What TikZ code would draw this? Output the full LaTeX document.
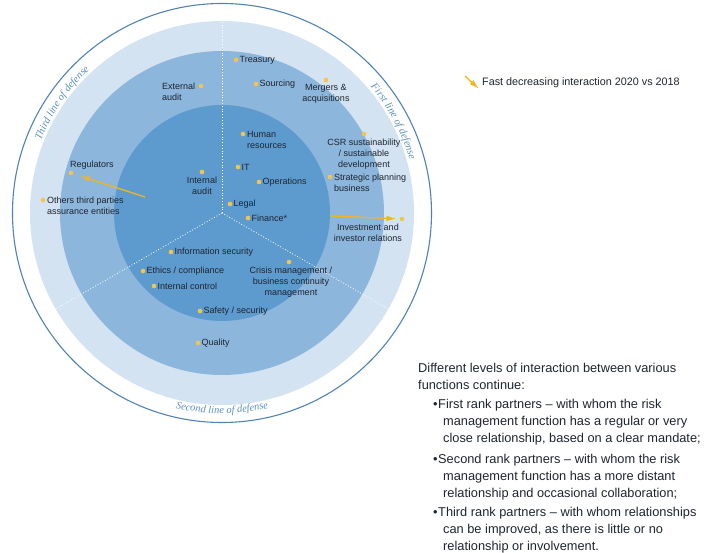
\documentclass[tikz,border=0pt]{standalone}
\usepackage{fontspec}
\setmainfont{Liberation Sans}
\newfontfamily\arcfont{Liberation Serif}
\definecolor{ringlight}{HTML}{D3E3F2}
\definecolor{ringmid}{HTML}{8CB6DC}
\definecolor{ringinner}{HTML}{5D9BCF}
\definecolor{rimblue}{HTML}{4F83B8}
\definecolor{rimtext}{HTML}{5A8FC6}
\definecolor{dotyellow}{HTML}{F2C54B}
\definecolor{arrowyellow}{HTML}{F2B520}
\definecolor{labelink}{HTML}{1E2430}
\usepackage{tikz}
\usetikzlibrary{arrows.meta,decorations.text,positioning}

\begin{document}
\begin{tikzpicture}[x=1pt,y=1pt,
    lbl/.style={font=\fontsize{9}{11}\selectfont,text=labelink,inner sep=0pt},
    fn/.style={circle,fill=dotyellow,inner sep=0pt,minimum size=4.6pt},
    trend/.style={arrowyellow,line width=1.3pt,-{Latex[length=10pt,width=5.5pt]}},
    divider/.style={white,dotted,line width=0.8pt},
    para/.style={font=\fontsize{12.8}{17}\selectfont,text=labelink,inner sep=0pt,align=left}]
    \useasboundingbox (-222,-340) rectangle (485,213);
    % Rings
    \coordinate (hub) at (0,0);
    \draw[rimblue,line width=1.1pt] (hub) circle (209.5pt);
    \fill[ringlight] (hub) circle (192pt);
    \fill[ringmid] (hub) circle (162pt);
    \fill[ringinner] (hub) circle (108pt);
    \foreach \a in {90,210,330}
      \draw[divider] (hub) -- (\a:192pt);
    % Lines of defense
    \path[decorate,decoration={text along path,text align=center,
      text={|\arcfont\itshape\fontsize{10.5}{12}\selectfont\color{rimtext}|Third line of defense}}]
      (165:195pt) arc[start angle=165,end angle=126,radius=195pt];
    \path[decorate,decoration={text along path,text align=center,
      text={|\arcfont\itshape\fontsize{10.5}{12}\selectfont\color{rimtext}|First line of defense}}]
      (48:195pt) arc[start angle=48,end angle=8,radius=195pt];
    \path[decorate,decoration={text along path,text align=center,
      text={|\arcfont\itshape\fontsize{10.5}{12}\selectfont\color{rimtext}|Second line of defense}}]
      (250:200.5pt) arc[start angle=250,end angle=290,radius=200.5pt];
    % Third line
    \node[fn] (extaudit) at (-21,127) {};
    \node[lbl,align=left,anchor=west] (extaudittxt) at (-60,121.5) {External\\audit};
    \node[fn] (intaudit) at (-20,41) {};
    \node[lbl,align=center,below=2pt of intaudit] (intaudittxt) {Internal\\audit};
    \node[fn] (regulators) at (-151,40) {};
    \node[lbl,anchor=west] (regulatorstxt) at (-152,47.5) {Regulators};
    \node[fn] (others) at (-179,13) {};
    \node[lbl,align=left,anchor=west] (otherstxt) at (-175,7.5) {Others third parties\\assurance entities};
    % First line
    \node[fn] (treasury) at (14,153) {};
    \node[lbl,right=1pt of treasury] (treasurytxt) {Treasury};
    \node[fn] (sourcing) at (34,129) {};
    \node[lbl,right=1pt of sourcing] (sourcingtxt) {Sourcing};
    \node[fn] (mergers) at (104,133) {};
    \node[lbl,align=center,below=2pt of mergers] (mergerstxt) {Mergers \&\\acquisitions};
    \node[fn] (human) at (21,79) {};
    \node[lbl,align=left,anchor=west] (humantxt) at (25,73) {Human\\resources};
    \node[fn] (it) at (16,46) {};
    \node[lbl,right=1pt of it] (ittxt) {IT};
    \node[fn] (operations) at (37,31) {};
    \node[lbl,right=1pt of operations] (operationstxt) {Operations};
    \node[fn] (legal) at (8,9) {};
    \node[lbl,right=1pt of legal] (legaltxt) {Legal};
    \node[fn] (finance) at (26,-5) {};
    \node[lbl,right=1pt of finance] (financetxt) {Finance*};
    \node[fn] (csr) at (142,79) {};
    \node[lbl,align=center,below=2pt of csr] (csrtxt) {CSR sustainability\\/ sustainable\\development};
    \node[fn] (strategic) at (108,36) {};
    \node[lbl,align=left,anchor=west] (strategictxt) at (112,30.5) {Strategic planning\\business};
    \node[fn] (investment) at (180,-6) {};
    \node[lbl,align=center] (investmenttxt) at (146,-19.5) {Investment and\\investor relations};
    % Second line
    \node[fn] (infosec) at (-51,-39) {};
    \node[lbl,right=1pt of infosec] (infosectxt) {Information security};
    \node[fn] (ethics) at (-79,-58) {};
    \node[lbl,right=1pt of ethics] (ethicstxt) {Ethics / compliance};
    \node[fn] (intcontrol) at (-68,-73) {};
    \node[lbl,right=1pt of intcontrol] (intcontroltxt) {Internal control};
    \node[fn] (crisis) at (67,-49) {};
    \node[lbl,align=center,below=2pt of crisis,xshift=2pt] (crisistxt) {Crisis management /\\business continuity\\management};
    \node[fn] (safety) at (-22,-98) {};
    \node[lbl,right=1pt of safety] (safetytxt) {Safety / security};
    \node[fn] (quality) at (-24,-130) {};
    \node[lbl,right=1pt of quality] (qualitytxt) {Quality};
    % Trends
    \coordinate (regtail) at (-77,16);
    \draw[trend,shorten >=7pt] (regtail) -- (regulators);
    \coordinate (invtail) at (109,-3);
    \draw[trend,shorten >=3pt] (invtail) -- (investment);
    % Key
    \coordinate (keytail) at (243,137);
    \coordinate (keytip) at (257,124);
    \draw[trend] (keytail) -- (keytip);
    \node[font=\fontsize{10.8}{13}\selectfont,text=labelink,inner sep=0pt,anchor=west] (keytxt) at (260,130)
      {Fast decreasing interaction 2020 vs 2018};
    % Notes (base = last line)
    \node[para,anchor=base west] (intro) at (196,-177)
      {Different levels of interaction between various\\functions continue:};
    \node[para,anchor=base west] (bulletone) at (211,-196) {•};
    \node[para,anchor=base west] (rankone) at (221,-230)
      {\hspace*{-5pt}First rank partners – with whom the risk\\management function has a regular or very\\close relationship, based on a clear mandate;};
    \node[para,anchor=base west] (bullettwo) at (211,-251) {•};
    \node[para,anchor=base west] (ranktwo) at (221,-285)
      {\hspace*{-5pt}Second rank partners – with whom the risk\\management function has a more distant\\relationship and occasional collaboration;};
    \node[para,anchor=base west] (bulletthree) at (211,-303.5) {•};
    \node[para,anchor=base west] (rankthree) at (221,-337.5)
      {\hspace*{-5pt}Third rank partners – with whom relationships\\can be improved, as there is little or no\\relationship or involvement.};
\end{tikzpicture}
\end{document}
